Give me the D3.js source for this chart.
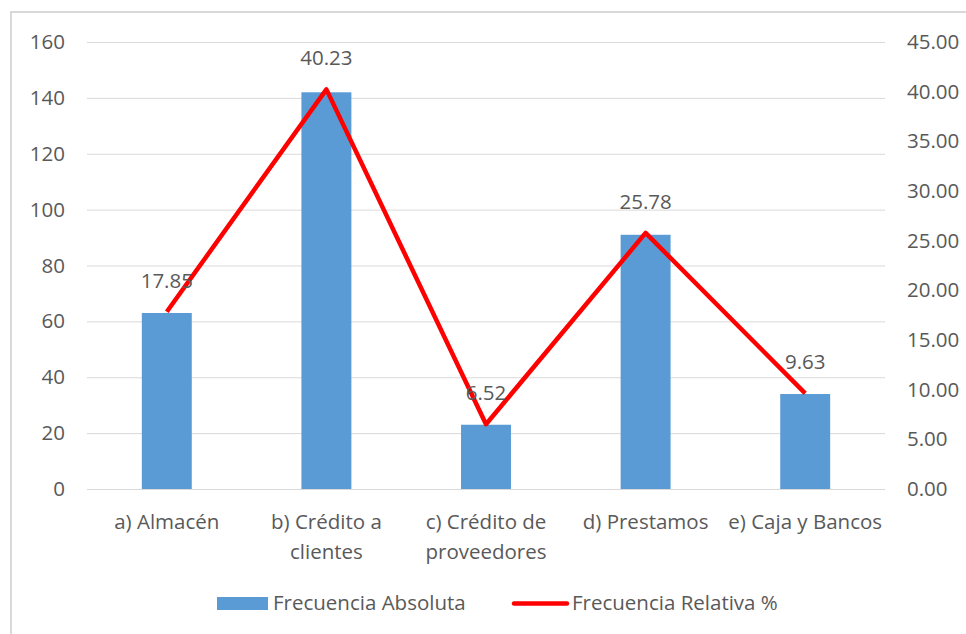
<!DOCTYPE html>
<html>
<head>
<meta charset="utf-8">
<script src="https://cdn.jsdelivr.net/npm/d3@7"></script>
<style>
  body { margin: 0; background: #fff; }
  svg text { font-family: "Open Sans", Lato, sans-serif; fill: #595959; }
</style>
</head>
<body>
<div id="chart"></div>
<script>
// chart data
var categories = ["a) Almacén", "b) Crédito a|clientes", "c) Crédito de|proveedores", "d) Prestamos", "e) Caja y Bancos"];
var absoluta = [63, 142, 23, 91, 34];
var relativa = [17.85, 40.23, 6.52, 25.78, 9.63];
var leftTicks = [0, 20, 40, 60, 80, 100, 120, 140, 160];
var rightTicks = [0, 5, 10, 15, 20, 25, 30, 35, 40, 45];

var W = 966, H = 634;
var margin = { top: 42, right: 81, bottom: 145, left: 87 };
var width = W - margin.left - margin.right,
    height = H - margin.top - margin.bottom;
var fs = "20.5px";

var svg = d3.select("#chart").append("svg")
    .attr("width", W)
    .attr("height", H);

// outer frame
svg.append("rect")
    .attr("x", 11).attr("y", 12)
    .attr("width", W + 20).attr("height", H + 20)
    .attr("fill", "none")
    .attr("stroke", "#d9d9d9")
    .attr("stroke-width", 2);

var g = svg.append("g")
    .attr("transform", "translate(" + margin.left + "," + margin.top + ")");

// scales
var x = d3.scaleBand()
    .domain(categories)
    .range([0, width])
    .paddingInner(0.687)
    .paddingOuter(0.3435);

var yL = d3.scaleLinear().domain([0, 160]).range([height, 0]);
var yR = d3.scaleLinear().domain([0, 45]).range([height, 0]);

// gridlines
g.append("g")
    .selectAll("line")
    .data(leftTicks)
    .enter().append("line")
    .attr("x1", 0)
    .attr("x2", width)
    .attr("y1", function(d){ return yL(d) + 0.5; })
    .attr("y2", function(d){ return yL(d) + 0.5; })
    .attr("stroke", "#d9d9d9")
    .attr("stroke-width", 1);

// left axis
var leftAxis = d3.axisLeft(yL).tickValues(leftTicks).tickSize(0).tickPadding(22);
var gl = g.append("g").call(leftAxis);
gl.select(".domain").remove();
gl.selectAll("text").style("font-size", fs).attr("fill", "#595959");

// right axis
var rightAxis = d3.axisRight(yR).tickValues(rightTicks).tickSize(0).tickPadding(22)
    .tickFormat(d3.format(".2f"));
var gr = g.append("g").attr("transform", "translate(" + width + ",0)").call(rightAxis);
gr.select(".domain").remove();
gr.selectAll("text").style("font-size", fs).attr("fill", "#595959");
gl.attr("font-family", null);
gr.attr("font-family", null);

// bars
g.selectAll(".bar")
    .data(absoluta)
    .enter().append("rect")
    .attr("class", "bar")
    .attr("x", function(d, i){ return x(categories[i]); })
    .attr("width", x.bandwidth())
    .attr("y", function(d){ return yL(d); })
    .attr("height", function(d){ return height - yL(d); })
    .attr("fill", "#5b9bd5");

// relative line
var cx = function(i){ return x(categories[i]) + x.bandwidth() / 2; };
var line = d3.line()
    .x(function(d, i){ return cx(i); })
    .y(function(d){ return yR(d); });

g.append("path")
    .datum(relativa)
    .attr("d", line)
    .attr("fill", "none")
    .attr("stroke", "#ff0000")
    .attr("stroke-width", 4.5)
    .attr("stroke-linejoin", "round");

// data labels
g.selectAll(".lbl")
    .data(relativa)
    .enter().append("text")
    .attr("class", "lbl")
    .attr("x", function(d, i){ return cx(i); })
    .attr("y", function(d){ return yR(d) - 24; })
    .attr("text-anchor", "middle")
    .style("font-size", fs)
    .text(function(d){ return d.toFixed(2); });

// category labels
var cat = g.selectAll(".cat")
    .data(categories)
    .enter().append("text")
    .attr("class", "cat")
    .attr("text-anchor", "middle")
    .attr("x", function(d){ return x(d) + x.bandwidth() / 2; })
    .attr("y", height + 40)
    .style("font-size", fs);

cat.each(function(d){
    var parts = d.split("|");
    var t = d3.select(this);
    parts.forEach(function(p, j){
        t.append("tspan")
            .attr("x", t.attr("x"))
            .attr("dy", j === 0 ? 0 : 30)
            .text(p);
    });
});

// legend
var leg = svg.append("g");
leg.append("rect")
    .attr("x", 217).attr("y", 597)
    .attr("width", 51).attr("height", 13)
    .attr("fill", "#5b9bd5");
leg.append("text")
    .attr("x", 273).attr("y", 610)
    .style("font-size", fs)
    .text("Frecuencia Absoluta");
leg.append("line")
    .attr("x1", 514).attr("x2", 567)
    .attr("y1", 603.5).attr("y2", 603.5)
    .attr("stroke", "#ff0000")
    .attr("stroke-width", 4.5)
    .attr("stroke-linecap", "round");
leg.append("text")
    .attr("x", 572).attr("y", 610)
    .style("font-size", fs)
    .text("Frecuencia Relativa %");
</script>
</body>
</html>
